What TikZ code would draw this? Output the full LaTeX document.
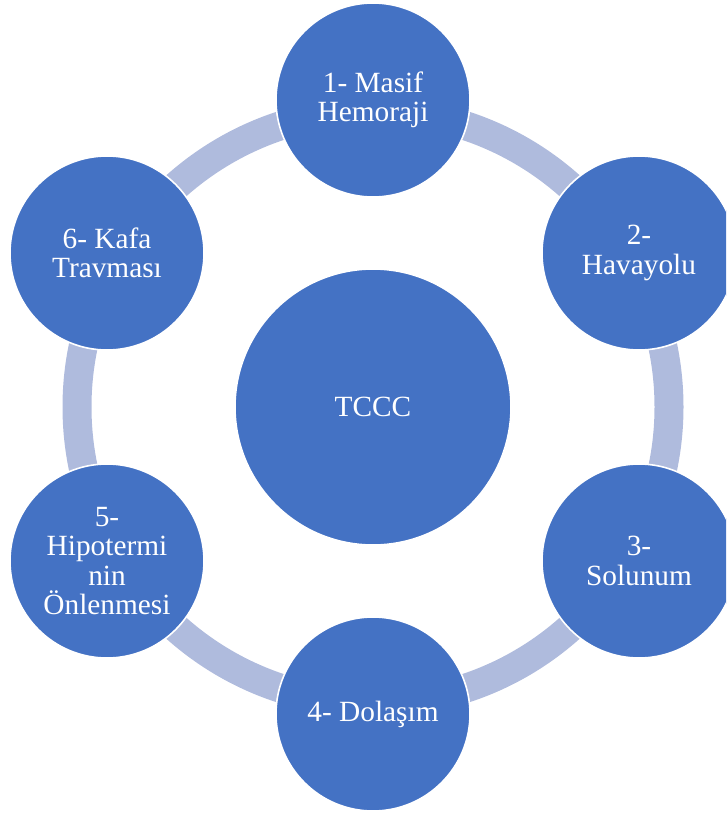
\documentclass[tikz,border=0pt]{standalone}
\usepackage{fontspec}
\setmainfont{Liberation Serif}
\definecolor{cycblue}{RGB}{68,114,196}
\definecolor{cycring}{RGB}{175,187,221}
\tikzset{
    hub/.style={circle, fill=cycblue, draw=white, line width=1.2pt,
        minimum size=207pt, inner sep=0pt, text=white, align=center,
        font=\fontsize{22}{22}\selectfont},
    phase/.style={hub, minimum size=145.5pt},
    ring/.style={draw=cycring, line width=21.75pt}
}

\begin{document}
\begin{tikzpicture}[x=0.75pt,y=-0.75pt]
\useasboundingbox (0,0) rectangle (726,814);
\clip (0,0) rectangle (726,814);
\node[hub] (tccc) at (373,407) {TCCC};
% ring behind the phases
\path[ring] (tccc.center) circle (222pt);
\node[phase] (masif) at (373,100) {1- Masif\\Hemoraji};
\node[phase] (havayolu) at (639,253) {2-\\Havayolu};
\node[phase] (solunum) at (639,561) {3-\\Solunum};
\node[phase] (dolasim) at (373,714) {4- Dolaşım};
\node[phase] (hipotermi) at (107,561) {5-\\Hipotermi\\nin\\Önlenmesi};
\node[phase] (kafa) at (107,253) {6- Kafa\\Travması};
\end{tikzpicture}
\end{document}
